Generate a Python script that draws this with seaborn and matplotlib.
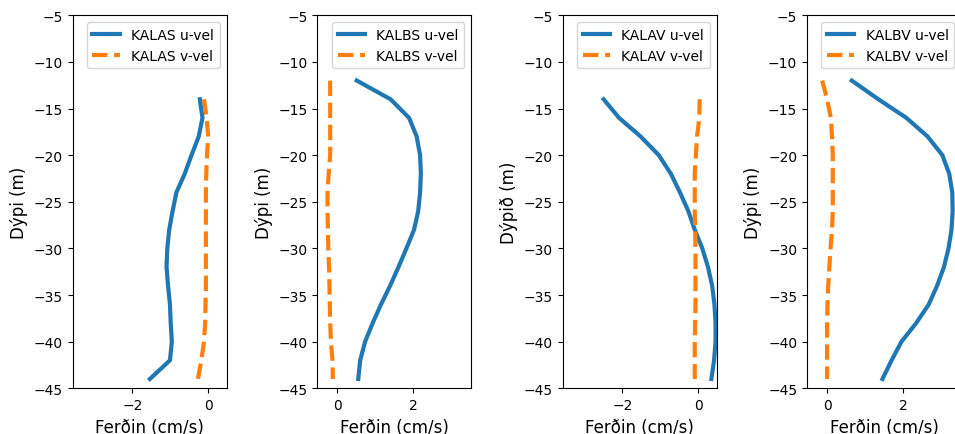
import matplotlib
matplotlib.use("Agg")
import matplotlib.pyplot as plt
import seaborn as sns
import numpy as np

# Depth levels (m) for each station
depth_A = [-14, -16, -18, -20, -22, -24, -26, -28, -30, -32, -34, -36, -38, -40, -42, -44]
depth_B = [-12, -14, -16, -18, -20, -22, -24, -26, -28, -30, -32, -34, -36, -38, -40, -42, -44]

# Mean current profiles (cm/s)
kalas_u = [-0.22, -0.15, -0.25, -0.44, -0.62, -0.84, -0.94, -1.03, -1.08, -1.10, -1.06, -1.01, -0.99, -0.96, -1.01, -1.54]
kalas_v = [-0.11, -0.04, 0.00, -0.03, -0.05, -0.06, -0.06, -0.06, -0.06, -0.06, -0.06, -0.07, -0.08, -0.11, -0.18, -0.27]

kalbs_u = [0.51, 1.40, 1.89, 2.09, 2.18, 2.20, 2.18, 2.13, 2.02, 1.82, 1.61, 1.39, 1.15, 0.93, 0.73, 0.60, 0.55]
kalbs_v = [-0.19, -0.19, -0.19, -0.19, -0.19, -0.23, -0.26, -0.26, -0.25, -0.24, -0.22, -0.21, -0.20, -0.19, -0.17, -0.13, -0.12]

kalav_u = [-2.50, -2.09, -1.52, -1.04, -0.72, -0.48, -0.26, -0.09, 0.11, 0.26, 0.37, 0.43, 0.46, 0.46, 0.42, 0.35]
kalav_v = [0.04, 0.03, -0.03, -0.06, -0.09, -0.09, -0.09, -0.08, -0.07, -0.07, -0.07, -0.07, -0.08, -0.09, -0.09, -0.09]

kalbv_u = [0.65, 1.35, 2.09, 2.65, 3.04, 3.22, 3.30, 3.31, 3.28, 3.20, 3.08, 2.90, 2.68, 2.35, 1.96, 1.70, 1.46]
kalbv_v = [-0.13, 0.00, 0.10, 0.13, 0.15, 0.15, 0.15, 0.15, 0.13, 0.09, 0.06, 0.03, 0.01, 0.00, 0.00, 0.00, 0.00]

stations = ["KALAS", "KALBS", "KALAV", "KALBV"]
depths = [depth_A, depth_B, depth_A, depth_B]
u_profiles = [kalas_u, kalbs_u, kalav_u, kalbv_u]
v_profiles = [kalas_v, kalbs_v, kalav_v, kalbv_v]
ylabels = ["Dýpi (m)", "Dýpi (m)", "Dýpið (m)", "Dýpi (m)"]
xlims = [(-3.58, 0.49), (-0.53, 3.53), (-3.58, 0.49), (-0.53, 3.53)]

W, H = 955, 435
fig = plt.figure(figsize=(W / 100, H / 100), dpi=100)

lefts = [72.7, 317.3, 562.7, 807.0]
ax_w, ax_top, ax_bot = 154.0, 16.3, 389.3

for i, name in enumerate(stations):
    ax = fig.add_axes([lefts[i] / W, 1 - ax_bot / H, ax_w / W, (ax_bot - ax_top) / H])
    sns.lineplot(x=u_profiles[i], y=depths[i], ax=ax, sort=False, estimator=None,
                 orient="y", color="C0", lw=3, label=f"{name} u-vel")
    sns.lineplot(x=v_profiles[i], y=depths[i], ax=ax, sort=False, estimator=None,
                 orient="y", color="C1", lw=3, linestyle="--", label=f"{name} v-vel")
    ax.set_ylim(-45, -5)
    ax.set_xlim(*xlims[i])
    ax.set_xticks([-2, 0] if xlims[i][0] < -1 else [0, 2])
    ax.set_xlabel("Ferðin (cm/s)", fontsize=12)
    ax.set_ylabel(ylabels[i], fontsize=12)
    ax.tick_params(labelsize=10)
    ax.legend(loc="upper right", fontsize=10)

fig.savefig("out.png", dpi=100)
